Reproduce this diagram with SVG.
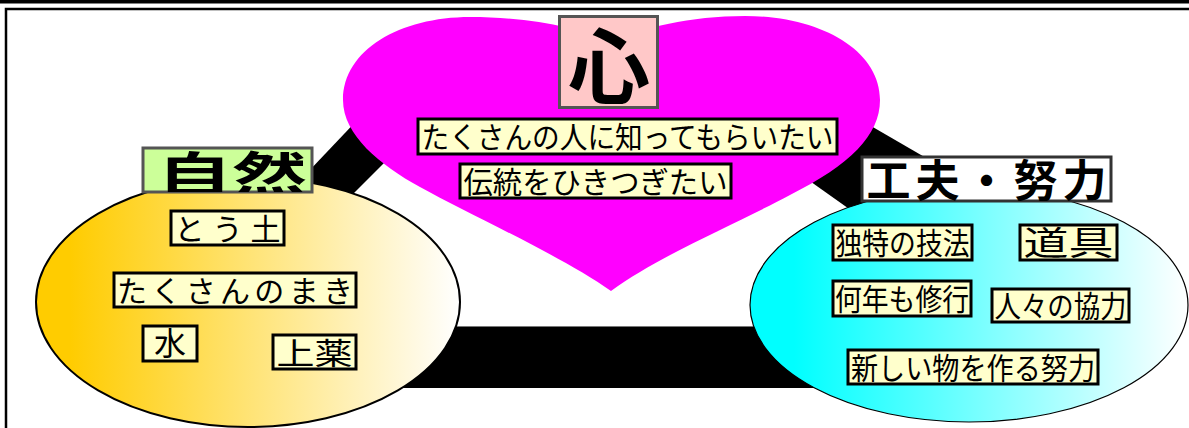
<svg xmlns="http://www.w3.org/2000/svg" width="1189" height="428" viewBox="0 0 1189 428">
<defs>
<linearGradient id="gY" x1="0" y1="0" x2="1" y2="0">
<stop offset="0.08" stop-color="#FFCC00"/>
<stop offset="1" stop-color="#FFFFFF"/>
</linearGradient>
<linearGradient id="gC" x1="0" y1="0" x2="1" y2="0">
<stop offset="0.1" stop-color="#00FFFF"/>
<stop offset="1" stop-color="#FFFFFF"/>
</linearGradient>
<clipPath id="cShizen"><rect x="143" y="148" width="169" height="44"/></clipPath>
<clipPath id="cKufu"><rect x="862" y="157" width="249" height="44"/></clipPath>
<style>
.t{font-family:"Noto Sans CJK JP","Noto Sans CJK SC",sans-serif;fill:#000;text-anchor:middle}
.b{font-weight:bold}
.lbl{fill:#FFFFCC;stroke:#000;stroke-width:3}
.band{fill:#000}
</style>
</defs>
<rect x="0" y="0" width="1189" height="428" fill="#fff"/>
<rect x="0" y="0" width="1189" height="3.5" fill="#000"/>
<path d="M6,428 V9 H1189" fill="none" stroke="#000" stroke-width="2.5"/>

<g id="connectors">
<polygon class="band" points="270,212 400,75 440,107 330,217"/>
<polygon class="band" points="840,108 990,195 900,245 790,167"/>
<rect class="band" x="350" y="326" width="560" height="62"/>
<line x1="400" y1="326.5" x2="820" y2="326.5" stroke="#777" stroke-width="1"/>
</g>

<g id="heart">
<path d="M611,291 C560,255 470,215 420,187 C380,165 343,135 343,100 C343,50 400,17 470,17 C530,17 580,28 611,42 C642,28 690,16 745,16 C820,16 880,50 880,100 C880,135 850,165 790,195 C740,222 660,255 611,291 Z" fill="#FF00FF"/>
<rect x="559.5" y="16.5" width="98" height="91" fill="#FFC8C8" stroke="#555" stroke-width="3"/>
<text class="t b" x="609" y="97" font-size="82">心</text>
<rect class="lbl" x="418" y="119" width="419" height="35"/>
<text class="t" x="627.5" y="148" font-size="30" textLength="412" lengthAdjust="spacingAndGlyphs">たくさんの人に知ってもらいたい</text>
<rect class="lbl" x="460" y="164" width="271" height="34"/>
<text class="t" x="595.5" y="193" font-size="30" textLength="264" lengthAdjust="spacingAndGlyphs">伝統をひきつぎたい</text>
</g>

<g id="shizen">
<ellipse cx="248" cy="302" rx="212" ry="125" fill="url(#gY)" stroke="#000" stroke-width="2"/>
<rect x="143" y="148" width="169" height="44" fill="#CCFF99" stroke="#555" stroke-width="3"/>
<g clip-path="url(#cShizen)"><text class="t b" x="232" y="192" font-size="48" textLength="150" lengthAdjust="spacingAndGlyphs">自然</text></g>
<rect class="lbl" x="171" y="211" width="113" height="34"/>
<text class="t" x="227.5" y="240" font-size="30" textLength="106" lengthAdjust="spacing">とう土</text>
<rect class="lbl" x="114" y="273" width="242" height="34"/>
<text class="t" x="235" y="302" font-size="30" textLength="236" lengthAdjust="spacing">たくさんのまき</text>
<rect class="lbl" x="143" y="326" width="54" height="35"/>
<text class="t" x="170" y="355" font-size="32">水</text>
<rect class="lbl" x="273" y="335" width="83" height="34"/>
<text class="t" x="314.5" y="364" font-size="30" textLength="76" lengthAdjust="spacingAndGlyphs">上薬</text>
</g>

<g id="kufu">
<ellipse cx="969" cy="305" rx="219" ry="117" fill="url(#gC)" stroke="#000" stroke-width="1.2"/>
<rect x="862" y="157" width="249" height="44" fill="#fff" stroke="#333" stroke-width="3"/>
<g clip-path="url(#cKufu)"><text class="t b" x="986.5" y="197" font-size="44" textLength="240" lengthAdjust="spacing">工夫・努力</text></g>
<rect class="lbl" x="833" y="225" width="139" height="35"/>
<text class="t" x="902.5" y="254" font-size="30" textLength="134" lengthAdjust="spacingAndGlyphs">独特の技法</text>
<rect class="lbl" x="1020" y="225" width="97" height="35"/>
<text class="t" x="1068.5" y="255" font-size="33" textLength="90" lengthAdjust="spacingAndGlyphs">道具</text>
<rect class="lbl" x="833" y="281" width="138" height="35"/>
<text class="t" x="902" y="310" font-size="30" textLength="134" lengthAdjust="spacingAndGlyphs">何年も修行</text>
<rect class="lbl" x="992" y="289" width="137" height="33"/>
<text class="t" x="1060.5" y="317" font-size="30" textLength="132" lengthAdjust="spacingAndGlyphs">人々の協力</text>
<rect class="lbl" x="848" y="350" width="250" height="34"/>
<text class="t" x="973" y="379" font-size="30" textLength="244" lengthAdjust="spacingAndGlyphs">新しい物を作る努力</text>
</g>
</svg>
